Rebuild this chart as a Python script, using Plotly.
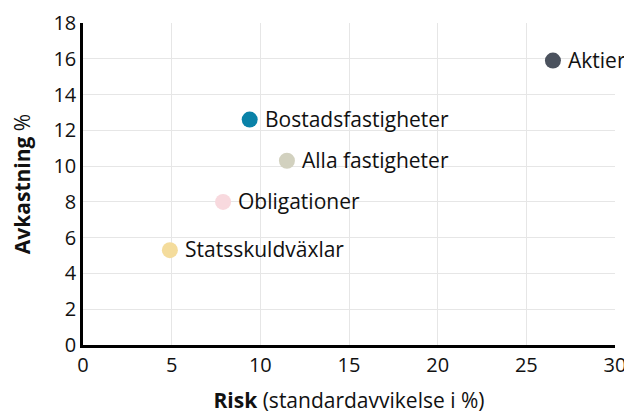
import plotly.graph_objects as go

names = ["Aktier", "Bostadsfastigheter", "Alla fastigheter", "Obligationer", "Statsskuldväxlar"]
risk = [26.5, 9.4, 11.5, 7.9, 4.9]
ret = [15.9, 12.6, 10.3, 8.0, 5.3]
colors = ["#4b525e", "#0a82a8", "#d2d1bf", "#f8d9de", "#f4dc9c"]

x_ticks = [0, 5, 10, 15, 20, 25, 30]
y_ticks = [0, 2, 4, 6, 8, 10, 12, 14, 16, 18]

FONT = "Open Sans"

fig = go.Figure()
fig.add_trace(go.Scatter(
    x=risk, y=ret, mode="markers",
    marker=dict(size=16, color=colors),
    cliponaxis=False, showlegend=False, hoverinfo="skip",
))
for n, xv, yv in zip(names, risk, ret):
    fig.add_annotation(
        x=xv, y=yv, text=n, showarrow=False, xanchor="left", yanchor="middle",
        xshift=13, yshift=1, font=dict(family=FONT, size=21, color="#111"),
    )

# page body adds an 8px offset; figure sized so the plot area sits where the reference has it
fig.update_layout(
    width=624, height=406,
    margin=dict(l=75, r=17, t=15, b=69, autoexpand=False),
    plot_bgcolor="white", paper_bgcolor="white",
    font=dict(family=FONT, size=20, color="#111"),
)
fig.update_xaxes(
    range=[0, 30], tickvals=x_ticks, ticktext=[str(v) for v in x_ticks],
    showgrid=True, gridcolor="#e6e6e6", gridwidth=1,
    showline=True, linecolor="black", linewidth=2.5,
    zeroline=False, ticks="", ticklen=0, automargin=False,
    title=dict(text="<b>Risk</b> (standardavvikelse i %)", font=dict(size=21), standoff=20),
    fixedrange=True,
)
fig.update_yaxes(
    range=[0, 18], tickvals=y_ticks, ticktext=[str(v) for v in y_ticks],
    showgrid=True, gridcolor="#e6e6e6", gridwidth=1,
    showline=True, linecolor="black", linewidth=2.5,
    zeroline=False, ticks="", ticklen=0, automargin=False,
    title=dict(text="<b>Avkastning</b> %", font=dict(size=21), standoff=18),
    fixedrange=True,
)

fig.write_html("out.html")
